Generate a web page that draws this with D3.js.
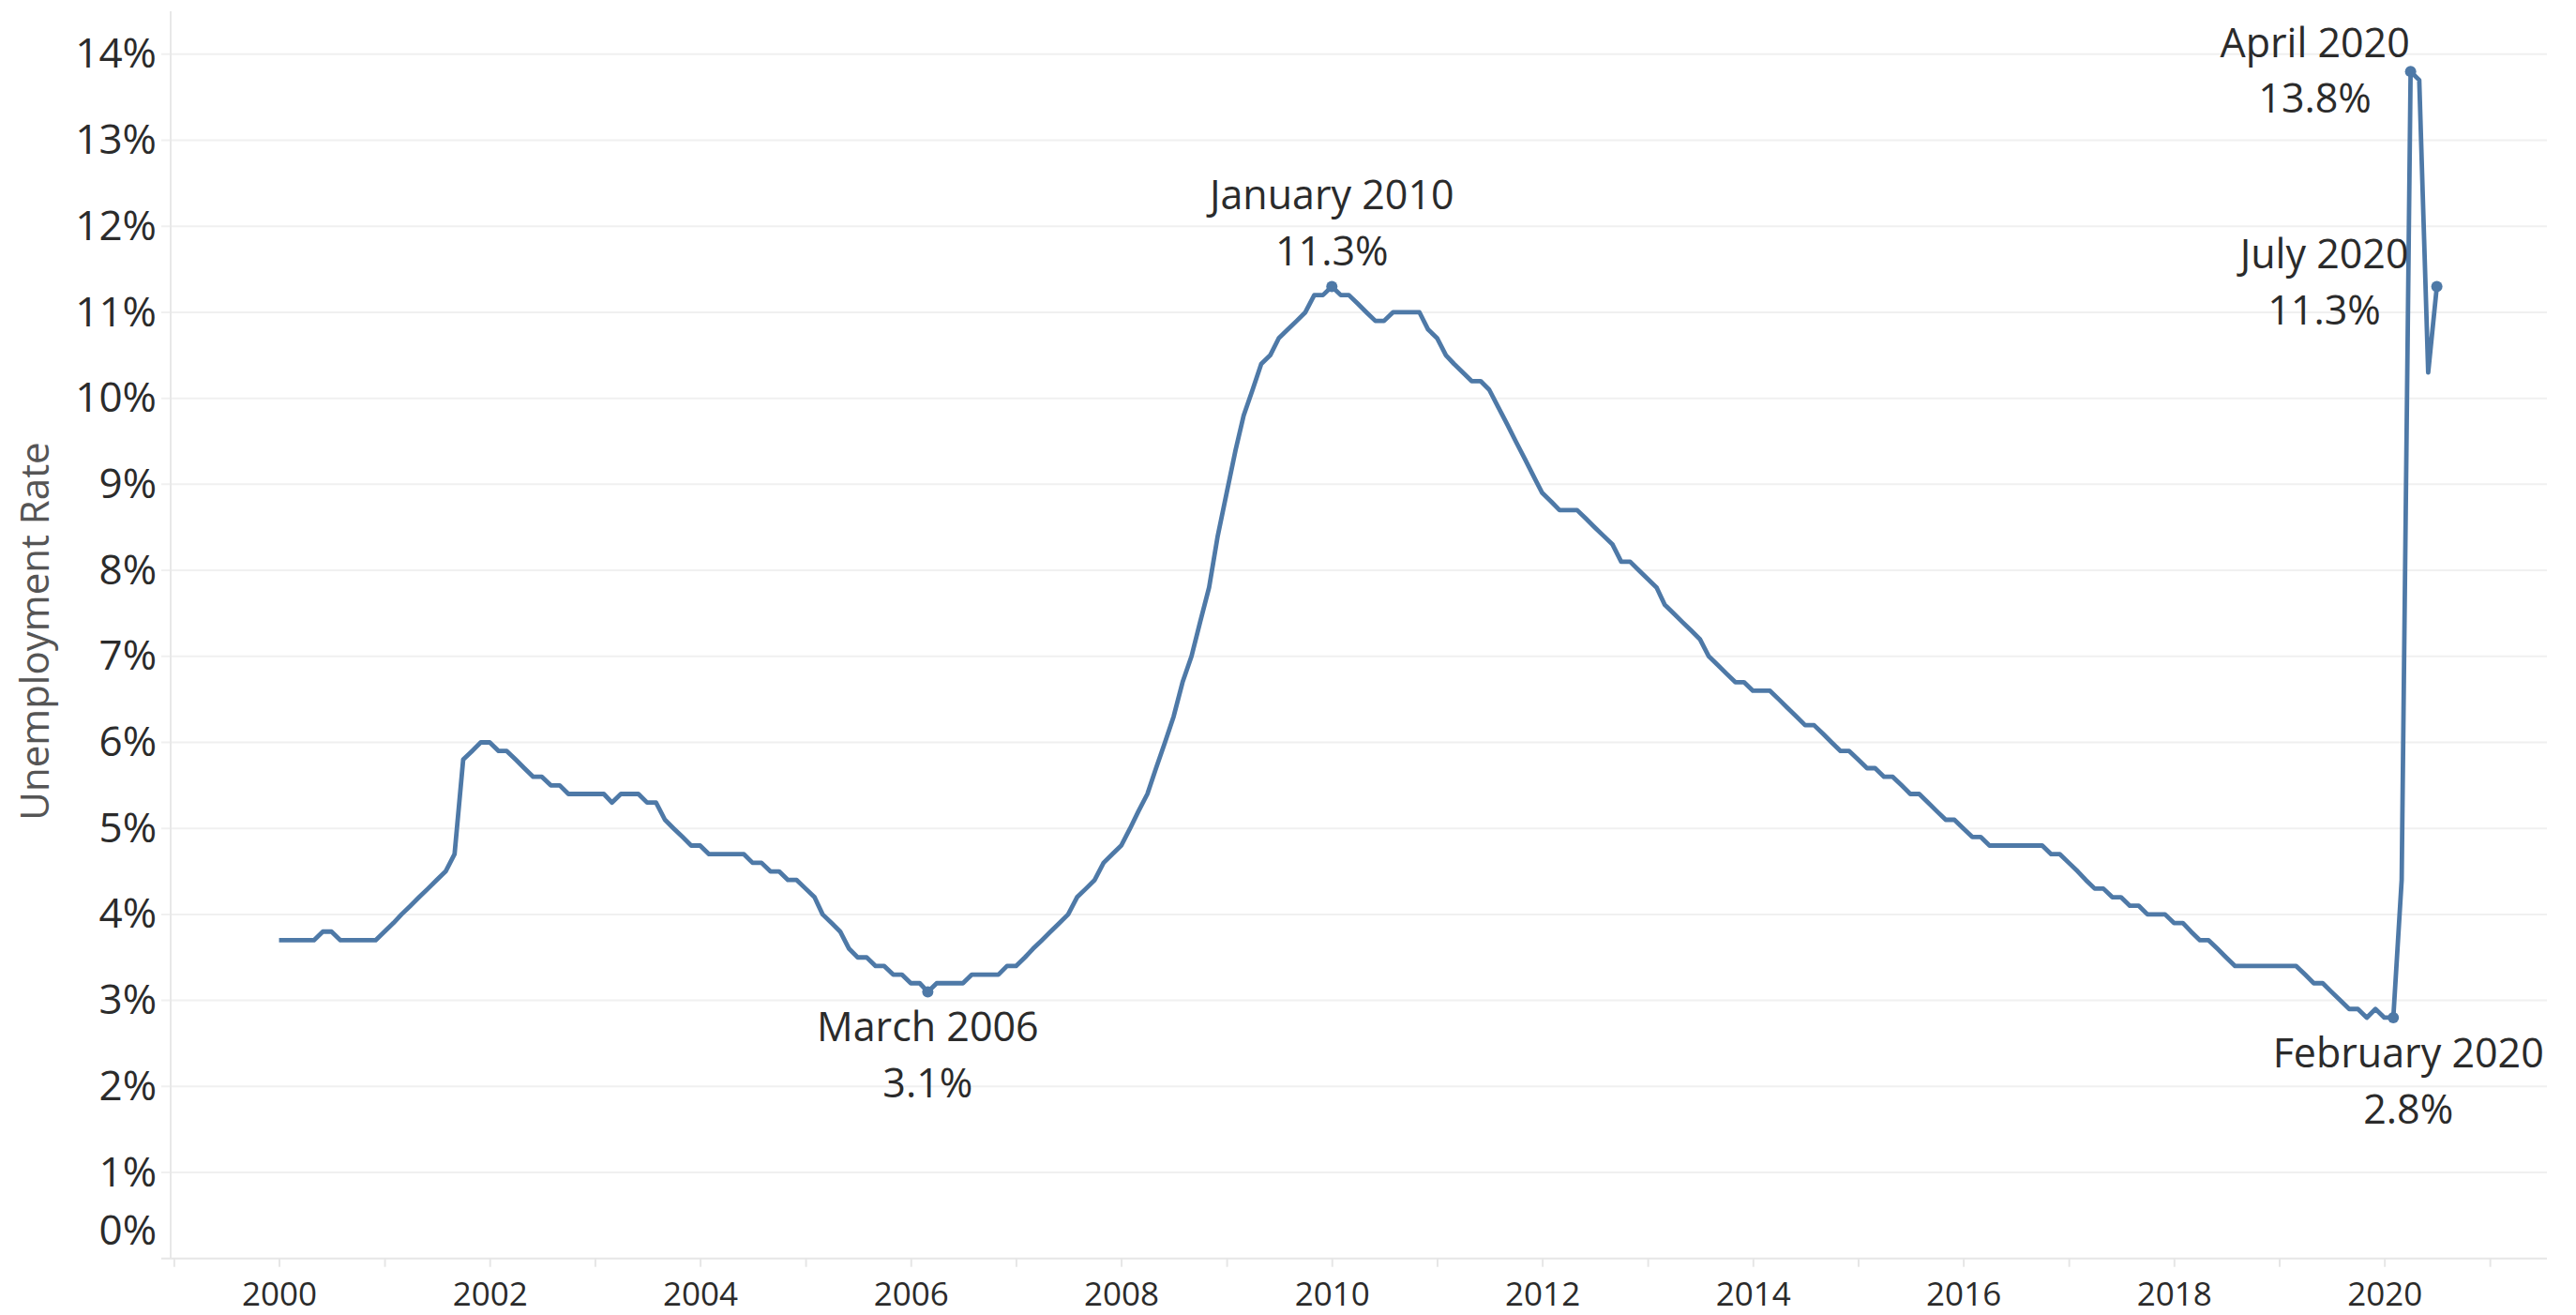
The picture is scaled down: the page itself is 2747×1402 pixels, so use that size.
<!DOCTYPE html>
<html lang="en">
<head>
<meta charset="UTF-8">
<title>Unemployment Rate</title>
<script src="https://d3js.org/d3.v7.min.js"></script>
<style>
  body { margin: 0; background: #fff; }
  svg text { font-family: "Open Sans", "Noto Sans", sans-serif; }
</style>
</head>
<body>
<div id="chart"></div>
<script>
// Monthly unemployment rate (%), one array per year, Jan..Dec
const startYear = 2000;
const rate2000 = [3.7, 3.7, 3.7, 3.7, 3.7, 3.8, 3.8, 3.7, 3.7, 3.7, 3.7, 3.7];
const rate2001 = [3.8, 3.9, 4.0, 4.1, 4.2, 4.3, 4.4, 4.5, 4.7, 5.8, 5.9, 6.0];
const rate2002 = [6.0, 5.9, 5.9, 5.8, 5.7, 5.6, 5.6, 5.5, 5.5, 5.4, 5.4, 5.4];
const rate2003 = [5.4, 5.4, 5.3, 5.4, 5.4, 5.4, 5.3, 5.3, 5.1, 5.0, 4.9, 4.8];
const rate2004 = [4.8, 4.7, 4.7, 4.7, 4.7, 4.7, 4.6, 4.6, 4.5, 4.5, 4.4, 4.4];
const rate2005 = [4.3, 4.2, 4.0, 3.9, 3.8, 3.6, 3.5, 3.5, 3.4, 3.4, 3.3, 3.3];
const rate2006 = [3.2, 3.2, 3.1, 3.2, 3.2, 3.2, 3.2, 3.3, 3.3, 3.3, 3.3, 3.4];
const rate2007 = [3.4, 3.5, 3.6, 3.7, 3.8, 3.9, 4.0, 4.2, 4.3, 4.4, 4.6, 4.7];
const rate2008 = [4.8, 5.0, 5.2, 5.4, 5.7, 6.0, 6.3, 6.7, 7.0, 7.4, 7.8, 8.4];
const rate2009 = [8.9, 9.4, 9.8, 10.1, 10.4, 10.5, 10.7, 10.8, 10.9, 11.0, 11.2, 11.2];
const rate2010 = [11.3, 11.2, 11.2, 11.1, 11.0, 10.9, 10.9, 11.0, 11.0, 11.0, 11.0, 10.8];
const rate2011 = [10.7, 10.5, 10.4, 10.3, 10.2, 10.2, 10.1, 9.9, 9.7, 9.5, 9.3, 9.1];
const rate2012 = [8.9, 8.8, 8.7, 8.7, 8.7, 8.6, 8.5, 8.4, 8.3, 8.1, 8.1, 8.0];
const rate2013 = [7.9, 7.8, 7.6, 7.5, 7.4, 7.3, 7.2, 7.0, 6.9, 6.8, 6.7, 6.7];
const rate2014 = [6.6, 6.6, 6.6, 6.5, 6.4, 6.3, 6.2, 6.2, 6.1, 6.0, 5.9, 5.9];
const rate2015 = [5.8, 5.7, 5.7, 5.6, 5.6, 5.5, 5.4, 5.4, 5.3, 5.2, 5.1, 5.1];
const rate2016 = [5.0, 4.9, 4.9, 4.8, 4.8, 4.8, 4.8, 4.8, 4.8, 4.8, 4.7, 4.7];
const rate2017 = [4.6, 4.5, 4.4, 4.3, 4.3, 4.2, 4.2, 4.1, 4.1, 4.0, 4.0, 4.0];
const rate2018 = [3.9, 3.9, 3.8, 3.7, 3.7, 3.6, 3.5, 3.4, 3.4, 3.4, 3.4, 3.4];
const rate2019 = [3.4, 3.4, 3.4, 3.3, 3.2, 3.2, 3.1, 3.0, 2.9, 2.9, 2.8, 2.9];
const rate2020 = [2.8, 2.8, 4.4, 13.8, 13.7, 10.3, 11.3];

const yearly = [rate2000, rate2001, rate2002, rate2003, rate2004, rate2005, rate2006,
  rate2007, rate2008, rate2009, rate2010, rate2011, rate2012, rate2013, rate2014,
  rate2015, rate2016, rate2017, rate2018, rate2019, rate2020];

// tick labels
const yTickValues = [0, 1, 2, 3, 4, 5, 6, 7, 8, 9, 10, 11, 12, 13, 14];
const xLabelYears = [2000, 2002, 2004, 2006, 2008, 2010, 2012, 2014, 2016, 2018, 2020];

// highlighted months
const highlightMonths = ["2006-03", "2010-01", "2020-02", "2020-04", "2020-07"];
const highlightNames = ["March 2006", "January 2010", "February 2020", "April 2020", "July 2020"];

// label placement relative to the point (px)
const annoLayout = [
  { dx: 0, dy1: 53, dy2: 113 },
  { dx: 0, dy1: -82, dy2: -22 },
  { dx: 16, dy1: 53, dy2: 113 },
  { dx: -102, dy1: -15, dy2: 44 },
  { dx: -120, dy1: -19, dy2: 41 }
];

const W = 2747, H = 1402;
const pane = { left: 182, right: 2716, top: 12, bottom: 1341.7 };

const series = [];
yearly.forEach((vals, i) => vals.forEach((v, j) => {
  series.push({ date: new Date(startYear + i, j, 1), value: v });
}));

const x = d3.scaleTime()
  .domain([new Date(1998, 11, 21), new Date(2021, 6, 18)])
  .range([pane.left, pane.right]);
const y = d3.scaleLinear()
  .domain([0, 14.5])
  .range([pane.bottom, pane.top]);

const svg = d3.select("#chart").append("svg")
  .attr("width", W)
  .attr("height", H);

// horizontal grid
svg.append("g")
  .selectAll("line")
  .data(yTickValues.filter(d => d > 0))
  .join("line")
  .attr("x1", pane.left - 10)
  .attr("x2", pane.right)
  .attr("y1", d => y(d))
  .attr("y2", d => y(d))
  .attr("stroke", "#f0f0f0")
  .attr("stroke-width", 2);

// axis lines
svg.append("line")
  .attr("x1", pane.left).attr("x2", pane.left)
  .attr("y1", pane.top).attr("y2", pane.bottom)
  .attr("stroke", "#e8e8e8").attr("stroke-width", 2);
svg.append("line")
  .attr("x1", pane.left - 10).attr("x2", pane.right)
  .attr("y1", pane.bottom).attr("y2", pane.bottom)
  .attr("stroke", "#e6e6e6").attr("stroke-width", 2);

// y axis labels
const yAxis = svg.append("g")
  .attr("transform", `translate(${pane.left},0)`)
  .call(d3.axisLeft(y).tickValues(yTickValues).tickFormat(d => d + "%").tickSize(0).tickPadding(15));
yAxis.select(".domain").remove();
yAxis.selectAll("text")
  .attr("font-size", 44)
  .attr("fill", "#2b2b2b");
// bottom label is lifted to stay inside the pane
yAxis.selectAll(".tick").filter(d => d === 0).select("text").attr("dy", "-0.34em");

// x axis
const xAxis = svg.append("g")
  .attr("transform", `translate(0,${pane.bottom})`)
  .call(d3.axisBottom(x)
    .ticks(d3.timeYear.every(1))
    .tickSize(9)
    .tickPadding(16)
    .tickFormat(d => xLabelYears.includes(d.getFullYear()) ? d.getFullYear() : ""));
xAxis.select(".domain").remove();
xAxis.selectAll(".tick line").attr("stroke", "#e6e6e6").attr("stroke-width", 2);
xAxis.selectAll("text")
  .attr("font-size", 35)
  .attr("fill", "#2b2b2b");

// axis title
svg.append("text")
  .attr("transform", "translate(52,673) rotate(-90)")
  .attr("text-anchor", "middle")
  .attr("font-size", 42)
  .attr("fill", "#555")
  .text("Unemployment Rate");

// line
svg.append("path")
  .datum(series)
  .attr("d", d3.line().x(d => x(d.date)).y(d => y(d.value)))
  .attr("fill", "none")
  .attr("stroke", "#4e79a7")
  .attr("stroke-width", 4.8)
  .attr("stroke-linejoin", "round");

// highlighted points and labels
const parseMonth = d3.timeParse("%Y-%m");
highlightMonths.forEach((m, i) => {
  const d = series.find(s => +s.date === +parseMonth(m));
  const px = x(d.date), py = y(d.value);
  const lay = annoLayout[i];

  svg.append("circle")
    .attr("cx", px).attr("cy", py).attr("r", 6)
    .attr("fill", "#4e79a7");

  const g = svg.append("g")
    .attr("text-anchor", "middle")
    .attr("font-size", 43)
    .attr("fill", "#2b2b2b");
  const t1 = g.append("text").attr("x", px + lay.dx).attr("y", py + lay.dy1).text(highlightNames[i]);
  const t2 = g.append("text").attr("x", px + lay.dx).attr("y", py + lay.dy2).text(d.value.toFixed(1) + "%");

  // keep the label inside the pane
  const w = Math.max(t1.node().getComputedTextLength(), t2.node().getComputedTextLength());
  const over = px + lay.dx + w / 2 - pane.right;
  if (over > 0) {
    t1.attr("x", px + lay.dx - over);
    t2.attr("x", px + lay.dx - over);
  }
});
</script>
</body>
</html>
